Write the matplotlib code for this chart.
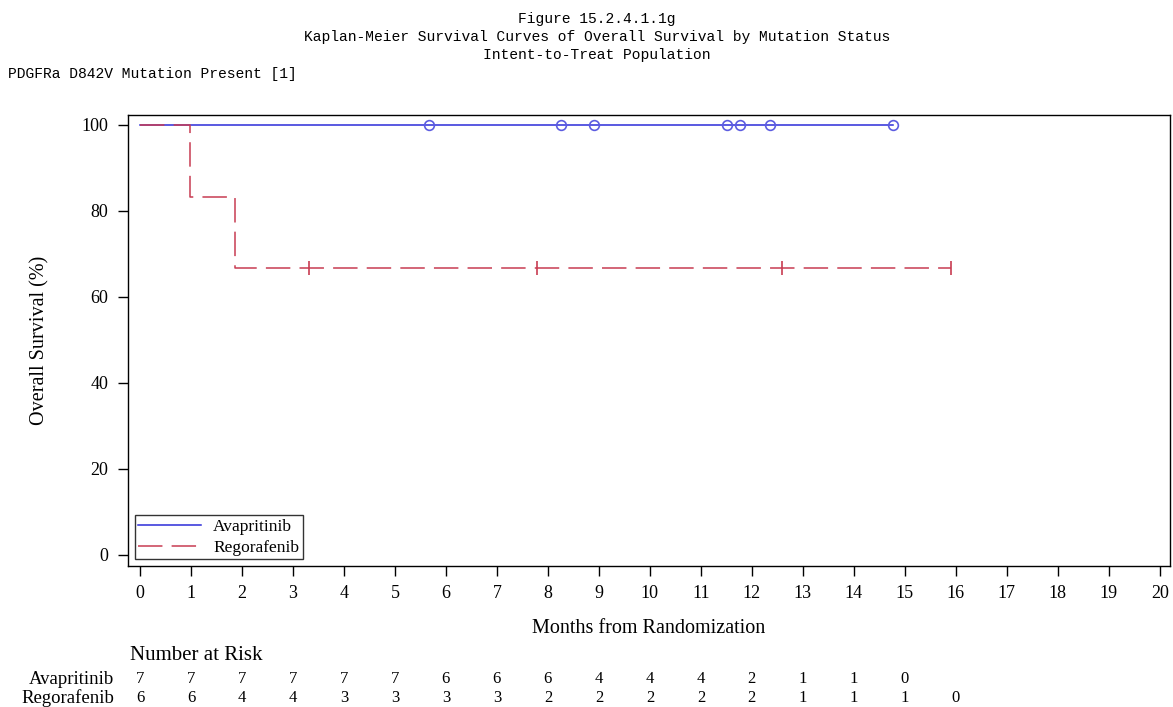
import numpy as np
import matplotlib
matplotlib.use("Agg")
import matplotlib.pyplot as plt

# step curves (time, survival %)
ava_t = [0, 14.76]
ava_s = [100, 100]
ava_cens_t = [5.67, 8.25, 8.9, 11.51, 11.76, 12.35, 14.76]
ava_cens_s = [100, 100, 100, 100, 100, 100, 100]

reg_t = [0, 0.98, 1.86, 15.9]
reg_s = [100, 83.33, 66.67, 66.67]
reg_cens_t = [3.31, 7.78, 12.6, 15.9]
reg_cens_s = [66.67, 66.67, 66.67, 66.67]

risk_times_ava = list(range(16))
risk_ava = [7, 7, 7, 7, 7, 7, 6, 6, 6, 4, 4, 4, 2, 1, 1, 0]
risk_times_reg = list(range(17))
risk_reg = [6, 6, 4, 4, 3, 3, 3, 3, 2, 2, 2, 2, 2, 1, 1, 1, 0]

x_ticks = list(range(21))
y_ticks = [0, 20, 40, 60, 80, 100]

blue = "#2c2cd8"
blue_mk = "#5c5ce0"
red = "#c83c52"
serif = "Liberation Serif"
mono = "Liberation Mono"

fig = plt.figure(figsize=(11.73, 7.07), dpi=100)
W, H = 1173, 707
ax = fig.add_axes([128 / W, 1 - 566 / H, (1170 - 128) / W, (566 - 115) / H])

ax.step(ava_t, ava_s, where="post", color=blue, lw=1.1)
ax.plot(ava_cens_t, ava_cens_s, ls="none", marker="o", ms=7, mfc="none",
        mec=blue_mk, mew=1.2)
ax.step(reg_t, reg_s, where="post", color=red, lw=1.1, dashes=(16, 6))
ax.plot(reg_cens_t, reg_cens_s, ls="none", marker="|", ms=10, color=red, mew=1.2)

ax.set_xlim(-0.235, 20.2)
ax.set_ylim(-2.56, 102.3)
ax.set_xticks(x_ticks)
ax.set_yticks(y_ticks)
ax.tick_params(direction="out", length=7, width=1, labelsize=13, pad=7)
for lab in ax.get_xticklabels() + ax.get_yticklabels():
    lab.set_fontfamily(serif)
for sp in ax.spines.values():
    sp.set_linewidth(1)

ax.set_ylabel("Overall Survival (%)", fontfamily=serif, fontsize=14.5)
ax.yaxis.set_label_coords(-0.075, 0.5)
ax.set_xlabel("Months from Randomization", fontfamily=serif, fontsize=14.5, labelpad=12)

h1, = ax.plot([], [], color=blue, lw=1.1)
h2, = ax.plot([], [], color=red, lw=1.1, dashes=(16, 6))
leg = ax.legend([h1, h2], ["Avapritinib", "Regorafenib"], loc="lower left",
                prop={"family": serif, "size": 12.5}, frameon=True, fancybox=False,
                edgecolor="black", handlelength=3.6, borderaxespad=0.4,
                labelspacing=0.25, borderpad=0.2, handletextpad=0.7)
leg.get_frame().set_linewidth(1)

# titles
cx = 597 / W
fig.text(cx, 1 - 19 / H, "Figure 15.2.4.1.1g", ha="center", va="center",
         fontfamily=mono, fontsize=10.5)
fig.text(cx, 1 - 37 / H, "Kaplan-Meier Survival Curves of Overall Survival by Mutation Status",
         ha="center", va="center", fontfamily=mono, fontsize=10.5)
fig.text(cx, 1 - 55 / H, "Intent-to-Treat Population", ha="center", va="center",
         fontfamily=mono, fontsize=10.5)
fig.text(8 / W, 1 - 74 / H, "PDGFRa D842V Mutation Present [1]", ha="left", va="center",
         fontfamily=mono, fontsize=10.5)

# number at risk
fig.text(130 / W, 1 - 655 / H, "Number at Risk", ha="left", va="center",
         fontfamily=serif, fontsize=15)
fig.text(114 / W, 1 - 679 / H, "Avapritinib", ha="right", va="center",
         fontfamily=serif, fontsize=13.5)
fig.text(114 / W, 1 - 698 / H, "Regorafenib", ha="right", va="center",
         fontfamily=serif, fontsize=13.5)
for t, n in zip(risk_times_ava, risk_ava):
    xf = fig.transFigure.inverted().transform(ax.transData.transform((t, 0)))[0]
    fig.text(xf, 1 - 679 / H, str(n), ha="center", va="center",
             fontfamily=serif, fontsize=12)
for t, n in zip(risk_times_reg, risk_reg):
    xf = fig.transFigure.inverted().transform(ax.transData.transform((t, 0)))[0]
    fig.text(xf, 1 - 698 / H, str(n), ha="center", va="center",
             fontfamily=serif, fontsize=12)

fig.savefig("out.png", dpi=100)
